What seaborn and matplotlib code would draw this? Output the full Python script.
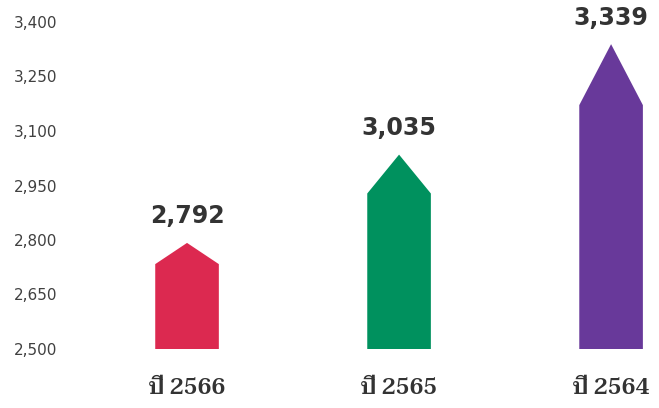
import matplotlib
matplotlib.use("Agg")
import matplotlib.pyplot as plt
from matplotlib.patches import Polygon
import seaborn as sns
import pandas as pd

years = ["ปี 2566", "ปี 2565", "ปี 2564"]
values = [2792, 3035, 3339]
colors = ["#DC2950", "#00915E", "#68399A"]
yticks = [2500, 2650, 2800, 2950, 3100, 3250, 3400]

sns.set_theme(style="white")
plt.rcParams['font.family'] = ['DejaVu Sans']

df = pd.DataFrame({'year': years, 'value': values})

fig = plt.figure(figsize=(6.59, 4.08), dpi=100)
ax = fig.add_axes([70/659, 59/408, 589/659, 327/408])
sns.barplot(data=df, x='year', y='value', hue='year', palette=colors,
            width=0.3, saturation=1, legend=False, ax=ax)

base = yticks[0]
# turn each bar into an upward arrow shape
for p in list(ax.patches):
    x0, w, top = p.get_x(), p.get_width(), p.get_height()
    col = p.get_facecolor()
    shoulder = base + 0.80 * (top - base)
    poly = Polygon([(x0, base), (x0, shoulder), (x0 + w / 2, top),
                    (x0 + w, shoulder), (x0 + w, base)],
                   closed=True, facecolor=col, edgecolor='none', clip_on=False)
    p.remove()
    ax.add_patch(poly)
    ax.annotate(f"{top:,.0f}", (x0 + w / 2, top), xytext=(0, 14),
                textcoords='offset points', ha='center', va='baseline',
                fontsize=17, fontweight='bold', color='#333333',
                annotation_clip=False)

ax.set_ylim(2500, 3400)
ax.set_xlim(-0.552, 2.226)
ax.set_yticks(yticks)
ax.set_yticklabels([f"{t:,}" for t in yticks], fontsize=11, color='#404040')
ax.set_xlabel('')
ax.set_ylabel('')
ax.tick_params(axis='y', length=0, pad=9)
ax.tick_params(axis='x', length=0, pad=21)
for lbl in ax.get_xticklabels():
    lbl.set_family(['Taviraj', 'Noto Serif Thai', 'DejaVu Serif'])
    lbl.set_fontsize(16)
    lbl.set_fontweight('semibold')
    lbl.set_color('#333333')
sns.despine(left=True, bottom=True)

plt.savefig('out.png', dpi=100)
